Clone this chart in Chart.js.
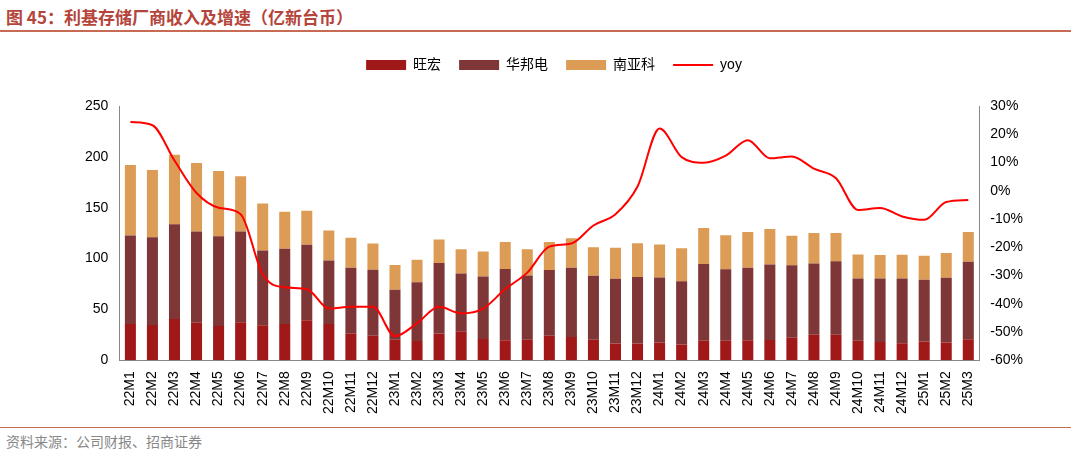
<!DOCTYPE html>
<html><head><meta charset="utf-8">
<script src="https://cdn.jsdelivr.net/npm/chart.js"></script>
<style>
body{margin:0;width:1071px;height:456px;background:#fff;font-family:"Noto Sans CJK SC","Liberation Sans",sans-serif;position:relative;overflow:hidden}
#title{position:absolute;left:6px;top:4px;font-size:17px;font-weight:bold;color:#B5443A}
#tl{position:absolute;left:0;top:30px;width:1071px;height:2px;background:#C86B55}
#bl{position:absolute;left:0;top:427px;width:1071px;height:1px;background:#C86B55}
#src{position:absolute;left:6px;top:431px;font-size:14px;color:#888}
#box{position:absolute;left:0;top:40px;width:1071px;height:387px}
</style></head><body>
<div id="title">图 45：利基存储厂商收入及增速（亿新台币）</div>
<div id="tl"></div>
<div id="box"><canvas id="c"></canvas></div>
<div id="bl"></div>
<div id="src">资料来源：公司财报、招商证券</div>
<script>
labels=["22M1","22M2","22M3","22M4","22M5","22M6","22M7","22M8","22M9","22M10","22M11","22M12",
"23M1","23M2","23M3","23M4","23M5","23M6","23M7","23M8","23M9","23M10","23M11","23M12",
"24M1","24M2","24M3","24M4","24M5","24M6","24M7","24M8","24M9","24M10","24M11","24M12","25M1","25M2","25M3"];
// cumulative readings: red top, purple top, total
redTop=[35.6,34.6,40.4,36.9,33.6,37.2,34.3,35.6,39.4,35.6,26,24,20.2,18.9,26.3,28.5,20.8,19.6,20.2,24,22.7,20.2,16.3,16.3,17.3,15.4,19.2,19.2,19.6,19.9,22.1,25,25,19.2,18,16.7,18.3,17.3,20.5];
purpleTop=[122.7,121,133.6,126.6,122,126.6,108,109.6,113.5,98,91,89,69.2,76.6,95.5,85.3,82.4,89.7,83.3,88.8,91,83,80,81.7,81.4,77.6,94.5,89.4,91,94,93.3,95.2,97.4,80.4,80.4,80.4,79,81,96.8];
total=[192,187,202,194,186,181,154,146,147,127.6,120.5,114.7,93.6,98.7,118.6,109,107,116.3,109,116.3,120,111,110.6,115,113.8,110,130,123,126,129,122.4,125,125,104,103.5,103.8,102.6,105.5,126];
yoy=[24.3,23.2,10.7,-0.8,-6,-8.3,-29.6,-34.2,-34.8,-41.7,-41.1,-41.1,-51.5,-46.9,-41.1,-43.4,-41.7,-34.8,-29,-19.8,-18.7,-12.3,-8.3,1.5,22,11.9,9.9,12.4,17.9,11.5,12.1,7.8,4.4,-6.8,-6.1,-9.1,-10.3,-4,-3.3];
wanghong=redTop.map(v=>+v.toFixed(1));
huabang=purpleTop.map((v,i)=>+(v-redTop[i]).toFixed(1));
nanya=total.map((v,i)=>+(v-purpleTop[i]).toFixed(1));
Chart.defaults.font.family='"Liberation Sans","Noto Sans CJK SC",sans-serif';
Chart.defaults.font.size=14;
Chart.defaults.color='#000';
// extra gap under the legend
legendGap={id:'legendGap',beforeInit(chart){const f=chart.legend.fit;chart.legend.fit=function(){f.call(this);this.height+=24;};}};
new Chart(document.getElementById("c"),{
  data:{labels:labels,datasets:[
    {type:'line',label:'yoy',data:yoy,yAxisID:'y1',borderColor:'#FF0000',backgroundColor:'#FF0000',borderWidth:2,pointRadius:0,pointStyle:'line',cubicInterpolationMode:'monotone',order:0},
    {type:'bar',label:'旺宏',data:wanghong,backgroundColor:'#A01818',pointStyle:'rect',stack:'s',order:1,categoryPercentage:0.5,barPercentage:1},
    {type:'bar',label:'华邦电',data:huabang,backgroundColor:'#7F3636',pointStyle:'rect',stack:'s',order:1,categoryPercentage:0.5,barPercentage:1},
    {type:'bar',label:'南亚科',data:nanya,backgroundColor:'#DD9C55',pointStyle:'rect',stack:'s',order:1,categoryPercentage:0.5,barPercentage:1}
  ]},
  plugins:[legendGap],
  options:{responsive:true,maintainAspectRatio:false,animation:false,
    layout:{padding:{left:82,right:45,top:0,bottom:10}},
    plugins:{legend:{labels:{usePointStyle:true,pointStyleWidth:40,boxHeight:10,padding:18,font:{size:14},
      sort:(a,b)=>(a.datasetIndex===0?4:a.datasetIndex)-(b.datasetIndex===0?4:b.datasetIndex)}},tooltip:{enabled:false}},
    scales:{
      x:{stacked:true,grid:{display:false},border:{color:'#888'},ticks:{minRotation:90,maxRotation:90,autoSkip:false,font:{size:14}}},
      y:{stacked:true,min:0,max:250,ticks:{stepSize:50},grid:{display:false},border:{color:'#888'}},
      y1:{position:'right',min:-60,max:30,ticks:{stepSize:10,callback:v=>v+'%'},grid:{display:false},border:{color:'#888'}}
    }
  }
});
</script>
</body></html>
